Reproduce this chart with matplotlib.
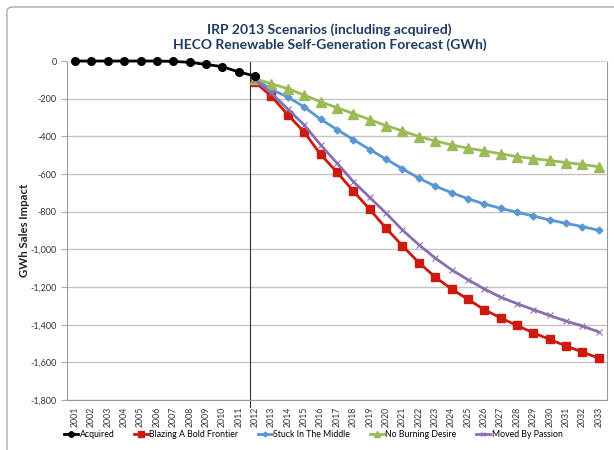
import matplotlib
matplotlib.use('Agg')
import matplotlib.pyplot as plt
from matplotlib.patches import FancyBboxPatch
from matplotlib.ticker import FuncFormatter, MultipleLocator

plt.rcParams['font.family'] = ['Lato', 'DejaVu Sans']

# data (GWh)
years = [str(y) for y in range(2001, 2034)]
acquired_years = years[:12]          # 2001-2012
scenario_years = years[11:]          # 2012-2033

acquired = [0, 0, 0, 0, 0, 0, -2, -7, -18, -30, -58, -80]
blazing = [-112, -188, -285, -378, -496, -590, -691, -787, -888, -981, -1070,
           -1147, -1210, -1265, -1320, -1364, -1404, -1443, -1478, -1513, -1545, -1578]
stuck = [-94, -152, -191, -244, -309, -364, -417, -470, -521, -572, -622,
         -664, -699, -731, -759, -782, -803, -823, -844, -862, -879, -899]
no_burning = [-94, -121, -147, -181, -216, -248, -279, -311, -343, -371, -401,
              -424, -445, -463, -477, -493, -507, -518, -528, -539, -549, -562]
moved = [-100, -172, -255, -340, -445, -542, -640, -724, -808, -897, -975,
         -1046, -1108, -1161, -1210, -1254, -1288, -1320, -1351, -1381, -1407, -1439]

x_all = list(range(len(years)))
x_acq = x_all[:12]
x_scn = x_all[11:]

fig = plt.figure(figsize=(6.14, 4.5), dpi=100)
ax = fig.add_axes([0.109, 0.111, 0.8796, 0.7534])

ax.plot(x_scn, blazing, color='#cc1a10', lw=2, marker='s', ms=5.5, label='Blazing A Bold Frontier', zorder=3)
ax.plot(x_scn, stuck, color='#5b95d2', lw=2, marker='D', ms=3.5, label='Stuck In The Middle', zorder=3)
ax.plot(x_scn, no_burning, color='#9bbb59', lw=2, marker='^', ms=6.5, label='No Burning Desire', zorder=3)
ax.plot(x_scn, moved, color='#8a6fb0', lw=2, marker='x', ms=4, mew=0.8, label='Moved By Passion', zorder=3)
ax.plot(x_acq, acquired, color='black', lw=2, marker='o', ms=5.5, label='Acquired', zorder=4, clip_on=False)

ax.axvline(10.69, color='#333333', lw=0.8, ymin=-0.02, clip_on=False)

ax.set_xlim(-0.5, 32.5)
ax.set_ylim(-1800, 0)
ax.yaxis.set_major_locator(MultipleLocator(200))
ax.yaxis.set_major_formatter(FuncFormatter(lambda v, p: f'{int(v):,}'))
ax.set_xticks(x_all)
ax.set_xticklabels(years, rotation=90, fontsize=6.3, color='#333333')
ax.tick_params(axis='y', labelsize=6.5, colors='#333333', length=4, color='#aaaaaa')
ax.tick_params(axis='x', length=0, pad=5)
ax.grid(axis='y', color='#c4c4c4', lw=1)
ax.set_axisbelow(True)
for side in ['left', 'bottom', 'right']:
    ax.spines[side].set_color('#9a9a9a')
ax.spines['top'].set_color('#dddddd')
ax.spines['top'].set_linestyle(':')

ax.set_ylabel('GWh Sales Impact', fontsize=8.2, fontweight='bold', color='#222222')
ax.yaxis.set_label_coords(-0.068, 0.5)

fig.text(0.537, 0.935, 'IRP 2013 Scenarios (including acquired)', ha='center', va='center',
         fontsize=10, fontweight='bold', color='#1f3a63')
fig.text(0.537, 0.901, 'HECO Renewable Self-Generation Forecast (GWh)', ha='center', va='center',
         fontsize=10, fontweight='bold', color='#1f3a63')

handles, labels = ax.get_legend_handles_labels()
order = [4, 0, 1, 2, 3]
fig.legend([handles[i] for i in order], [labels[i] for i in order], loc='center',
           bbox_to_anchor=(0.51, 0.035), ncol=5, frameon=False, fontsize=6.3,
           handlelength=1.6, handletextpad=0.2, columnspacing=2.2, markerscale=0.7)

border = FancyBboxPatch((7 / 614, -0.05), 1.2, (450 - 7) / 450 + 0.05,
                        boxstyle='round,pad=0,rounding_size=0.01', transform=fig.transFigure,
                        fill=False, edgecolor='#aaaaaa', lw=1)
fig.patches.append(border)

fig.savefig('out.png', dpi=100, facecolor='white')
